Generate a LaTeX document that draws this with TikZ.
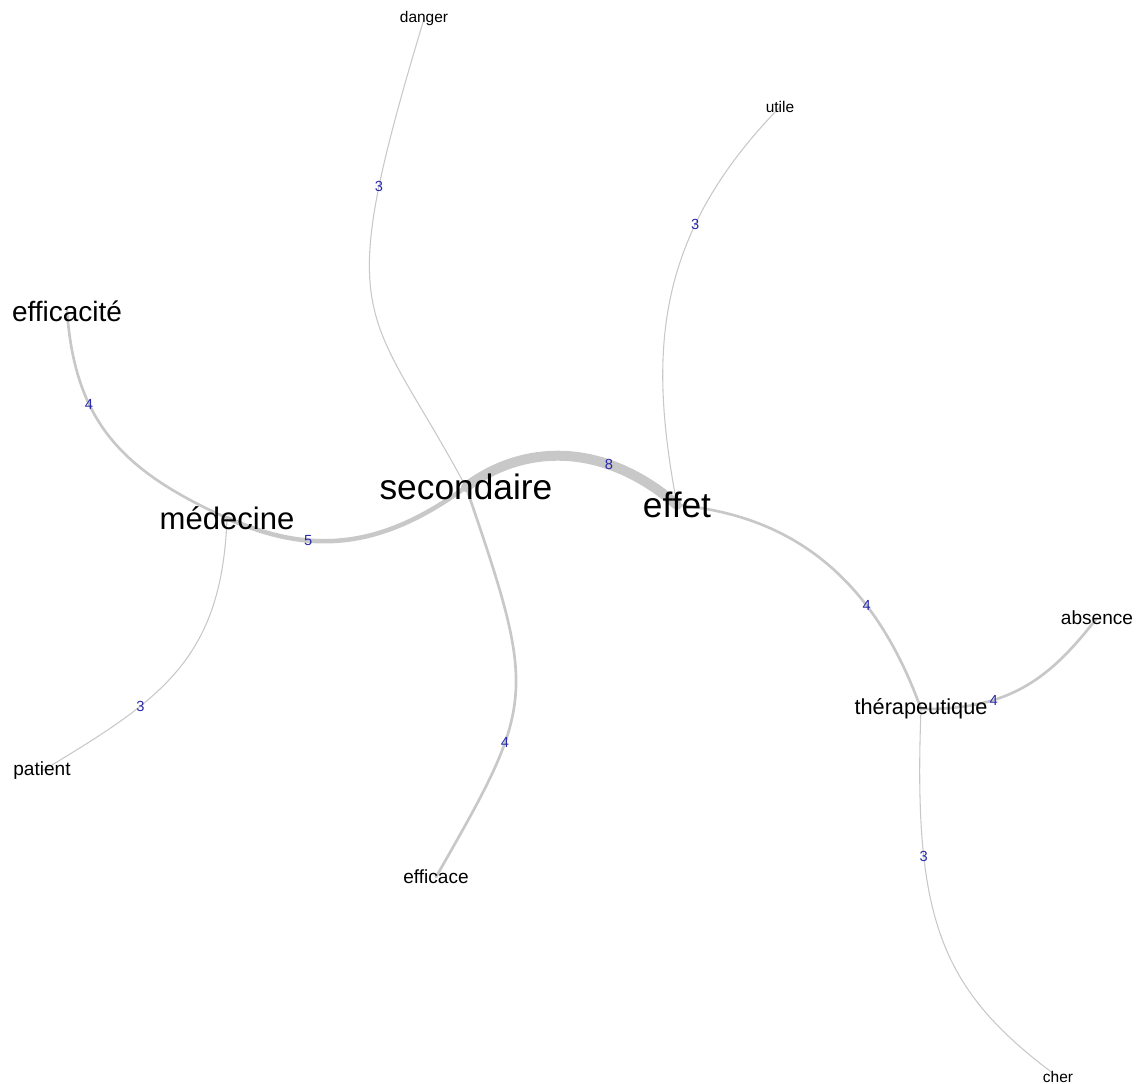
\documentclass[tikz,border=0pt]{standalone}
\usepackage{fontspec}
\setmainfont{Liberation Sans}
\pgfdeclarelayer{bg}
\pgfsetlayers{bg,main}
\definecolor{edgegray}{RGB}{200,200,200}
\definecolor{labblue}{RGB}{40,40,170}
\begin{document}
\begin{tikzpicture}[x=0.75pt,y=-0.75pt,
  word/.style={inner sep=0pt, text=black},
  wxl/.style={word, font=\fontsize{26.5}{30}\selectfont},
  wl/.style={word, font=\fontsize{23.3}{26}\selectfont},
  wml/.style={word, font=\fontsize{21}{24}\selectfont},
  wm/.style={word, font=\fontsize{16.3}{18}\selectfont},
  ws/.style={word, font=\fontsize{14.3}{16}\selectfont},
  wxs/.style={word, font=\fontsize{11.6}{13}\selectfont},
  edge/.style={draw=edgegray, line cap=round},
  e3/.style={edge, line width=0.8pt},
  e4/.style={edge, line width=2pt},
  e5/.style={edge, line width=3.4pt},
  e8/.style={edge, line width=7.5pt},
  elab/.style={text=labblue, font=\fontsize{11}{11}\selectfont, inner sep=0pt}]
\useasboundingbox (0,0) rectangle (1136,1084);

% words
\node[wxl] (secondaire) at (466,487) {secondaire};
\node[wxl] (effet) at (677,505) {effet};
\node[wl] (medecine) at (227,518) {médecine};
\node[wml] (efficacite) at (67,311) {efficacité};
\node[wm] (therap) at (921,709) {thérapeutique};
\node[ws] (absence) at (1097,618) {absence};
\node[ws] (patient) at (42,771) {patient};
\node[ws] (efficace) at (436,877) {efficace};
\node[wxs] (danger) at (424,19) {danger};
\node[wxs] (utile) at (780,107) {utile};
\node[wxs] (cher) at (1058,1077) {cher};

\begin{pgfonlayer}{bg}
\draw[e5] (medecine.center) .. controls +(83,37) and +(-86,63) .. (secondaire.center) node[elab,pos=0.34]{5};
\draw[e8] (secondaire.center) .. controls +(56,-42) and +(-75,-65) .. (effet.center) node[elab,pos=0.7]{8};
\draw[e4] (efficacite.center) .. controls +(8,109) and +(-107,-48) .. (medecine.center) node[elab,pos=0.34]{4};
\draw[e3] (medecine.center) .. controls +(-5,142) and +(118,-71) .. (patient.center) node[elab,pos=0.67]{3};
\draw[e3] (danger.center) .. controls +(-94,311) and +(-100,-186) .. (secondaire.center) node[elab,pos=0.23]{3};
\draw[e4] (secondaire.center) .. controls +(72,210) and +(100,-175) .. (efficace.center) node[elab,pos=0.66]{4};
\draw[e3] (utile.center) .. controls +(-130,133) and +(-27,-145) .. (effet.center) node[elab,pos=0.3]{3};
\draw[e4] (effet.center) .. controls +(108,10) and +(-50,-139) .. (therap.center) node[elab,pos=0.7]{4};
\draw[e4] (therap.center) .. controls +(90,1) and +(-47,60) .. (absence.center) node[elab,pos=0.32]{4};
\draw[e3] (therap.center) .. controls +(-8,211) and +(-118,-87) .. (cher.center) node[elab,pos=0.28]{3};
\end{pgfonlayer}
\end{tikzpicture}
\end{document}
